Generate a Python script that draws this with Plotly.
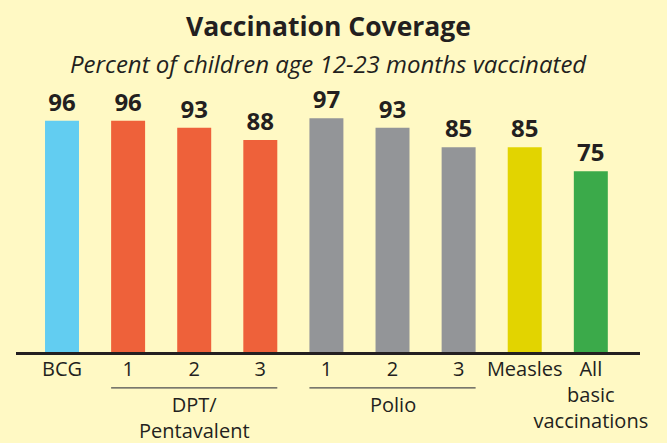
import plotly.graph_objects as go

categories = ["BCG", "1", "2", "3", "1", "2", "3", "Measles", "All<br>basic<br>vaccinations"]
values = [96, 96, 93, 88, 97, 93, 85, 85, 75]
colors = ["#62CDF1", "#EE613A", "#EE613A", "#EE613A", "#939598", "#939598", "#939598", "#E2D400", "#3BAA4A"]
groups = [("DPT/<br>Pentavalent", 1, 3), ("Polio", 4, 6)]

BG = "#FFF9C4"
TXT = "#231F20"
xs = list(range(len(categories)))
bw = 0.514

fig = go.Figure()
fig.add_trace(go.Bar(
    x=xs, y=values, width=bw, marker=dict(color=colors, line=dict(width=0)),
    text=[str(v) for v in values], textposition="outside", cliponaxis=False,
    constraintext="none",
    textfont=dict(family="Open Sans", size=24, color=TXT, weight="bold"),
    hoverinfo="skip",
))

for label, a, b in groups:
    fig.add_shape(type="line", xref="x", yref="paper", x0=a - bw / 2, x1=b + bw / 2,
                  y0=-0.149, y1=-0.149, line=dict(color="#4D4D4F", width=1.3))
    fig.add_annotation(x=(a + b) / 2, xref="x", yref="paper", y=-0.152, yanchor="top",
                       text=label, showarrow=False,
                       font=dict(family="Open Sans", size=20, color=TXT))

fig.add_annotation(x=0.5, xref="paper", y=1.352, yref="paper", yanchor="middle",
                   text="<b>Vaccination Coverage</b>", showarrow=False,
                   font=dict(family="Open Sans", size=26.5, color=TXT))
fig.add_annotation(x=0.5, xref="paper", y=1.199, yref="paper", yanchor="middle",
                   text="<i>Percent of children age 12-23 months vaccinated</i>", showarrow=False,
                   font=dict(family="Open Sans", size=24, color=TXT))

fig.update_layout(
    width=667, height=443,
    margin=dict(l=16, r=27, t=111, b=91, autoexpand=False),
    paper_bgcolor=BG, plot_bgcolor=BG,
    showlegend=False,
    xaxis=dict(range=[-0.696, 8.744], tickvals=xs, ticktext=categories, automargin=False,
               showgrid=False, zeroline=False, showline=True, linecolor="#231F20", linewidth=2.5,
               ticks="outside", ticklen=0, tickcolor="rgba(0,0,0,0)", ticklabelstandoff=-3,
               tickfont=dict(family="Open Sans", size=20, color=TXT), tickangle=0),
    yaxis=dict(range=[0, 100], visible=False, showgrid=False, zeroline=False, automargin=False),
)

fig.write_html("out.html", config={"displayModeBar": False},
               post_script="document.body.style.margin='0';document.body.style.overflow='hidden';")
